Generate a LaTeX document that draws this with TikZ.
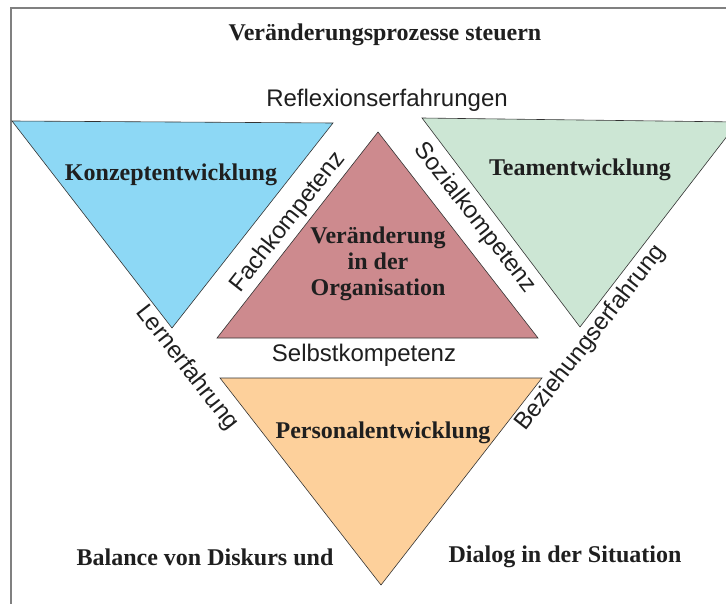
\documentclass[tikz,border=0pt]{standalone}
\usepackage{fontspec}
\setmainfont{Liberation Serif}
\setsansfont{Liberation Sans}
\definecolor{konzept}{RGB}{141,216,245}
\definecolor{orga}{RGB}{205,138,142}
\definecolor{team}{RGB}{204,230,212}
\definecolor{personal}{RGB}{253,208,155}
\begin{document}
\begin{tikzpicture}[x=1pt,y=-1pt,
    feld/.style={draw=black!80,line width=0.6pt,line join=miter},
    fett/.style={font=\fontsize{24}{26}\selectfont\bfseries,align=center,text=black!88,inner sep=0pt},
    duenn/.style={font=\fontsize{24}{26}\selectfont\sffamily,text=black!88,inner sep=0pt}]
    \useasboundingbox (0,0) rectangle (726,604);
    \clip (0,0) rectangle (726,604);
    % Rahmen
    \draw[gray,line width=1.5pt] (11,604)--(11,8)--(726,8);
    % Dreiecke
    \coordinate (k1) at (12,121); \coordinate (k2) at (333,123); \coordinate (k3) at (172,328);
    \coordinate (o1) at (378,132); \coordinate (o2) at (217,338); \coordinate (o3) at (538,338);
    \coordinate (t1) at (422,118); \coordinate (t2) at (738,122); \coordinate (t3) at (580,327);
    \coordinate (p1) at (220,378); \coordinate (p2) at (542,378); \coordinate (p3) at (381,585);
    \draw[feld,fill=konzept] (k1)--(k2)--(k3)--cycle;
    \draw[feld,fill=orga] (o1)--(o2)--(o3)--cycle;
    \draw[feld,fill=team] (t1)--(t2)--(t3)--cycle;
    \draw[feld,fill=personal] (p1)--(p2)--(p3)--cycle;
    % Texte
    \node[fett] (titel) at (385,35) {Veränderungsprozesse steuern};
    \node[duenn] (reflexion) at (387,100) {Reflexionserfahrungen};
    \node[fett] (konzept) at (171,175) {Konzeptentwicklung};
    \node[fett] (team) at (580,170) {Teamentwicklung};
    \node[fett] (orga) at (378,264) {Veränderung\\in der\\Organisation};
    \node[fett] (personal) at (383,433) {Personalentwicklung};
    \node[fett] (balance) at (205,557) {Balance von Diskurs und};
    \node[fett] (dialog) at (565,557) {Dialog in der Situation};
    \node[duenn] (selbst) at (364,355) {Selbstkompetenz};
    \node[duenn,rotate=52] (fach) at (288,222) {Fachkompetenz};
    \node[duenn,rotate=-52] (sozial) at (475,218) {Sozialkompetenz};
    \node[duenn,rotate=-52] (lerner) at (187,368) {Lernerfahrung};
    \node[duenn,rotate=52] (beziehung) at (591,338) {Beziehungserfahrung};
\end{tikzpicture}
\end{document}
